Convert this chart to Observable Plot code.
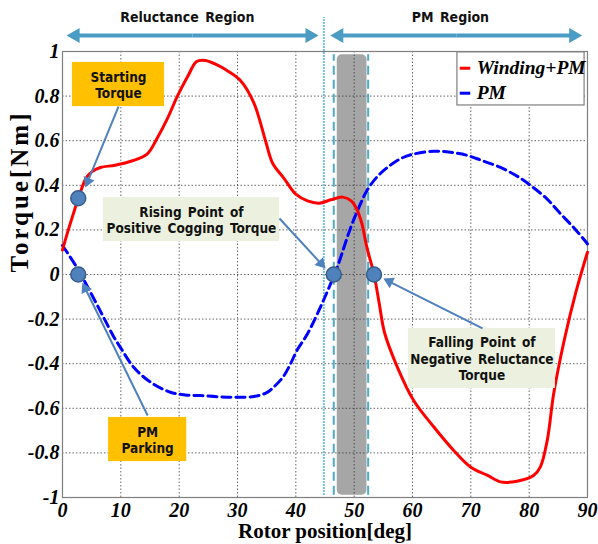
<!DOCTYPE html>
<html><head><meta charset="utf-8">
<script src="https://cdn.jsdelivr.net/npm/d3@7"></script>
<script src="https://cdn.jsdelivr.net/npm/@observablehq/plot@0.6"></script>
<style>body{margin:0;background:#fff}</style>
</head><body><div id="chart"></div>
<script>
// ---- data ----
const windingX = [0,1,2.7,4,5,6.5,9,12,14.5,16.2,18,19.7,21.5,23,24.5,26.5,28.2,30.5,32.8,34.8,36,38,40,42,44,46,48,49.5,50.5,51.3,52.2,53.4,54.3,55.2,57.4,60.2,63.7,67.1,70,72.8,75.1,77.9,80.8,81.9,83.1,84.2,86,88,90];
const windingY = [0.11,0.2,0.34,0.43,0.46,0.48,0.49,0.51,0.54,0.61,0.70,0.80,0.89,0.955,0.96,0.94,0.915,0.87,0.77,0.60,0.50,0.43,0.36,0.33,0.32,0.335,0.347,0.33,0.29,0.23,0.12,0.0,-0.13,-0.26,-0.415,-0.565,-0.685,-0.79,-0.864,-0.90,-0.93,-0.927,-0.90,-0.864,-0.744,-0.535,-0.296,-0.08,0.1];
const pmX = [0,2.5,5,7,8.8,10,12.2,15.1,18.5,21,23.7,26.5,29.4,32.8,35,36.2,37.8,39.1,40.2,42,44.2,45.5,47.1,49.4,50.8,52.2,54,55.7,58,60.2,63.7,66.5,69.4,72,75.1,78,80.2,83,85.4,88,90];
const pmY = [0.13,0.03,-0.09,-0.19,-0.28,-0.33,-0.416,-0.483,-0.528,-0.54,-0.543,-0.548,-0.55,-0.547,-0.53,-0.505,-0.46,-0.40,-0.34,-0.266,-0.147,-0.07,0.033,0.21,0.30,0.377,0.44,0.48,0.52,0.54,0.553,0.548,0.534,0.51,0.48,0.44,0.40,0.34,0.272,0.2,0.137];
const xTicks = [0,10,20,30,40,50,60,70,80,90];
const yTicks = [-1,-0.8,-0.6,-0.4,-0.2,0,0.2,0.4,0.6,0.8,1];
const seriesNames = ["Winding+PM","PM"];
const seriesColors = ["#ff0000","#0000ff"];

const regionLabels = [{text:"Reluctance Region", x:21.4, y:1.152},{text:"PM Region", x:66.5, y:1.152}];
const regionSpans = [{from:0.7, to:43.9, y:1.072},{from:45.9, to:89.1, y:1.072}];
const boxes = [
  {label:"Starting\nTorque", x1:1.7, x2:17.5, y1:0.753, y2:0.951, fill:"#ffc000"},
  {label:"PM\nParking", x1:7.9, x2:21.3, y1:-0.839, y2:-0.641, fill:"#ffc000"},
  {label:"Rising Point of\nPositive Cogging Torque", x1:7.0, x2:37.2, y1:0.148, y2:0.345, fill:"#ebf1de"},
  {label:"Falling Point of\nNegative Reluctance\nTorque", x1:59.3, x2:84.5, y1:-0.511, y2:-0.242, fill:"#ebf1de"}
];
const pointers = [
  {x1:9.6, y1:0.753, x2:3.9, y2:0.39},
  {x1:14.6, y1:-0.632, x2:3.4, y2:-0.036},
  {x1:37.2, y1:0.251, x2:45.1, y2:0.027},
  {x1:72, y1:-0.242, x2:55, y2:-0.018}
];
const keyPoints = [{x:2.7,y:0.342},{x:2.7,y:0},{x:46.5,y:0},{x:53.4,y:0}];
const band = [{x1:47.1, x2:52.2, y1:-0.99, y2:0.985}];
const dottedLine = [{x:44.8, y1:-0.99, y2:1.153}];
const dashedLines = [{x:46.5, y1:-0.99, y2:0.985},{x:52.4, y1:-0.99, y2:0.985}];
const legendBox = {x1:67.7, x2:89.5, y1:0.758, y2:0.996};
const legendRows = [{name:seriesNames[0], y:0.925, color:seriesColors[0], dash:null},{name:seriesNames[1], y:0.813, color:seriesColors[1], dash:"6,3,2,3"}];

// ---- layout ----
const W=598,H=544,ML=62,MR=11,MT=51,MB=47;
const XD=[0,90], YD=[-1,1];
const kx=(W-ML-MR)/(XD[1]-XD[0]), ky=(H-MT-MB)/(YD[1]-YD[0]);
const serif = "'Liberation Serif','Times New Roman',serif";
const narrow = "'Liberation Sans Narrow','Arial Narrow','DejaVu Sans Condensed',sans-serif";

function arrows(data, stroke, strokeWidth, r) {
  const rows = data.map(d => {
    const px=(d.x2-d.x1)*kx, py=(d.y2-d.y1)*ky;
    const len=Math.hypot(px,py), ux=px/len, uy=py/len;
    const back=1.555*r;
    return {x1:d.x1, y1:d.y1, hx:d.x2-ux*back/kx, hy:d.y2-uy*back/ky, angle:Math.atan2(px,py)*180/Math.PI};
  });
  return [
    Plot.link(rows,{x1:"x1",y1:"y1",x2:"hx",y2:"hy",stroke,strokeWidth}),
    Plot.dot(rows,{x:"hx",y:"hy",symbol:"triangle",r,rotate:"angle",fill:stroke,stroke:"none"})
  ];
}

const topArrows = regionSpans.flatMap(s => {
  const m=(s.from+s.to)/2;
  return [{x1:m,y1:s.y,x2:s.from,y2:s.y},{x1:m,y1:s.y,x2:s.to,y2:s.y}];
});

const winding = windingX.map((x,i)=>({x, y:windingY[i]}));
const pm = pmX.map((x,i)=>({x, y:pmY[i]}));

const chart = Plot.plot({
  width:W, height:H, marginLeft:ML, marginRight:MR, marginTop:MT, marginBottom:MB,
  x:{domain:XD}, y:{domain:YD},
  style:{fontFamily:serif, fontSize:"20px", background:"#fff", overflow:"visible"},
  marks:[
    Plot.rect(band,{x1:"x1",x2:"x2",y1:"y1",y2:"y2",fill:"#a6a6a6",rx:5}),
    Plot.gridX(xTicks,{stroke:"#333",strokeOpacity:0.75,strokeDasharray:"1.5,2"}),
    Plot.gridY(yTicks,{stroke:"#333",strokeOpacity:0.75,strokeDasharray:"1.5,2"}),
    Plot.frame({stroke:"#7f7f7f",strokeWidth:1.2}),
    Plot.ruleX(dottedLine,{x:"x",y1:"y1",y2:"y2",stroke:"#4bacc6",strokeWidth:2,strokeDasharray:"1.5,1.5"}),
    Plot.ruleX(dashedLines,{x:"x",y1:"y1",y2:"y2",stroke:"#4bacc6",strokeWidth:2,strokeDasharray:"9,5"}),
    Plot.line(pm,{x:"x",y:"y",stroke:seriesColors[1],strokeWidth:3,strokeDasharray:"9,5",curve:"catmull-rom"}),
    Plot.line(winding,{x:"x",y:"y",stroke:seriesColors[0],strokeWidth:3,curve:"catmull-rom"}),
    Plot.axisX(xTicks,{tickSize:0,tickPadding:5,tickFormat:d=>String(d),fontWeight:"bold",fontStyle:"italic",fontSize:20,fontFamily:serif,label:null}),
    Plot.axisY(yTicks,{tickSize:0,tickPadding:3,tickFormat:d=>String(+d.toFixed(1)),fontWeight:"bold",fontStyle:"italic",fontSize:20,fontFamily:serif,label:null}),
    Plot.text(["Rotor position[deg]"],{frameAnchor:"bottom",lineAnchor:"middle",dy:34,fontWeight:"bold",fontSize:21,fontFamily:serif}),
    Plot.text(["Torque[Nm]"],{frameAnchor:"left",lineAnchor:"middle",dx:-43,dy:-2,rotate:-90,fontWeight:"bold",fontSize:25,fontFamily:serif}),
    // region arrows & labels
    ...arrows(topArrows,"#4a9cc4",4,5.6),
    Plot.text(regionLabels,{x:"x",y:"y",text:"text",fontFamily:narrow,fontWeight:"bold",fontSize:14,fill:"#111"}),
    // callout boxes
    Plot.rect(boxes,{x1:"x1",x2:"x2",y1:"y1",y2:"y2",fill:"fill"}),
    Plot.text(boxes,{x:d=>(d.x1+d.x2)/2,y:d=>(d.y1+d.y2)/2,text:"label",lineHeight:1.2,fontFamily:narrow,fontWeight:"bold",fontSize:13.5,fill:"#111"}),
    ...arrows(pointers,"#4f81bd",2,4.3),
    Plot.dot(keyPoints,{x:"x",y:"y",r:7.5,fill:"#4f81bd",stroke:"#385d8a",strokeWidth:1.5}),
    // legend
    Plot.rect([legendBox],{x1:"x1",x2:"x2",y1:"y1",y2:"y2",fill:"#fff",stroke:"#7f7f7f",strokeWidth:1.2}),
    Plot.link(legendRows,{x1:68.1,x2:69.9,y1:"y",y2:"y",stroke:"color",strokeWidth:3,strokeDasharray:d=>d.dash}),
    Plot.text(legendRows,{x:71,y:"y",text:"name",textAnchor:"start",fontFamily:serif,fontWeight:"bold",fontStyle:"italic",fontSize:19.5,fill:"#000"})
  ]
});
// spacing tweaks
d3.select(chart).selectAll("text").each(function(){
  if (this.textContent === "Torque[Nm]") this.style.letterSpacing = "3px";
});
d3.select(chart).selectAll("g[font-family]").each(function(){
  if (this.getAttribute("font-family") === narrow) this.style.wordSpacing = "2px";
});
document.getElementById("chart").appendChild(chart);
</script></body></html>
